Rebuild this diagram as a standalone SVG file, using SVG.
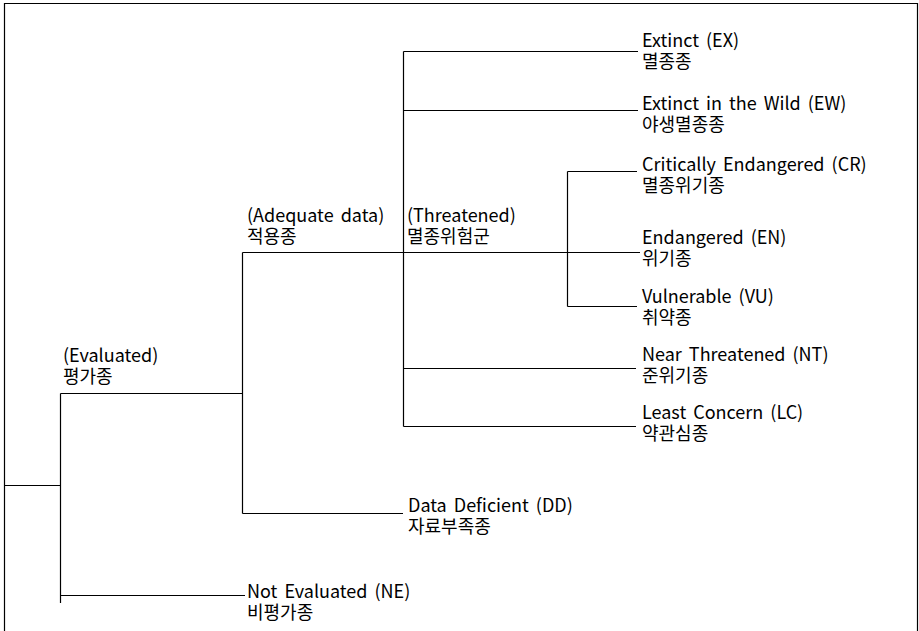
<svg xmlns="http://www.w3.org/2000/svg" width="919" height="631" viewBox="0 0 919 631">
<style>
.ln{stroke:#000;stroke-width:1.2;fill:none}
.t{font-family:"Noto Sans CJK KR","Noto Sans",sans-serif;font-size:18px;word-spacing:3px;fill:#000}
</style>
<rect x="0" y="0" width="919" height="631" fill="#fff"/>
<path class="ln" d="M4.5,640 V3.5 H917.5 V640"/>
<g id="connectors">
<path class="ln" d="M4.5,485.5 H60.5"/>
<path class="ln" d="M60.5,393.5 V603"/>
<path class="ln" d="M60.5,393.5 H242.5"/>
<path class="ln" d="M60.5,595.5 H245"/>
<path class="ln" d="M242.5,252.5 V513.5"/>
<path class="ln" d="M242.5,252.5 H640"/>
<path class="ln" d="M242.5,513.5 H403"/>
<path class="ln" d="M403.5,51.5 V426.5"/>
<path class="ln" d="M403.5,51.5 H638"/>
<path class="ln" d="M403.5,110.5 H638"/>
<path class="ln" d="M403.5,368.5 H636"/>
<path class="ln" d="M403.5,426.5 H636"/>
<path class="ln" d="M567.5,171.5 V306.5"/>
<path class="ln" d="M567.5,171.5 H637"/>
<path class="ln" d="M567.5,306.5 H637"/>
</g>
<g id="evaluated"><text class="t" x="63" y="361.5">(Evaluated)</text><text class="t" x="63" y="382.5">평가종</text></g>
<g id="adequate"><text class="t" x="247" y="222">(Adequate data)</text><text class="t" x="247" y="243">적용종</text></g>
<g id="threatened"><text class="t" x="407" y="222">(Threatened)</text><text class="t" x="407" y="243">멸종위험군</text></g>
<g id="ex"><text class="t" x="642" y="46.5">Extinct (EX)</text><text class="t" x="642" y="67.5">멸종종</text></g>
<g id="ew"><text class="t" x="642" y="109.5">Extinct in the Wild (EW)</text><text class="t" x="642" y="130.5">야생멸종종</text></g>
<g id="cr"><text class="t" x="642" y="170.5">Critically Endangered (CR)</text><text class="t" x="642" y="191.5">멸종위기종</text></g>
<g id="en"><text class="t" x="642" y="243.5">Endangered (EN)</text><text class="t" x="642" y="264.5">위기종</text></g>
<g id="vu"><text class="t" x="642" y="302.5">Vulnerable (VU)</text><text class="t" x="642" y="323.5">취약종</text></g>
<g id="nt"><text class="t" x="642" y="360.5">Near Threatened (NT)</text><text class="t" x="642" y="381.5">준위기종</text></g>
<g id="lc"><text class="t" x="642" y="418.5">Least Concern (LC)</text><text class="t" x="642" y="439.5">약관심종</text></g>
<g id="dd"><text class="t" x="408" y="511.5">Data Deficient (DD)</text><text class="t" x="408" y="532.5">자료부족종</text></g>
<g id="ne"><text class="t" x="247" y="597.5">Not Evaluated (NE)</text><text class="t" x="247" y="618.5">비평가종</text></g>
</svg>
